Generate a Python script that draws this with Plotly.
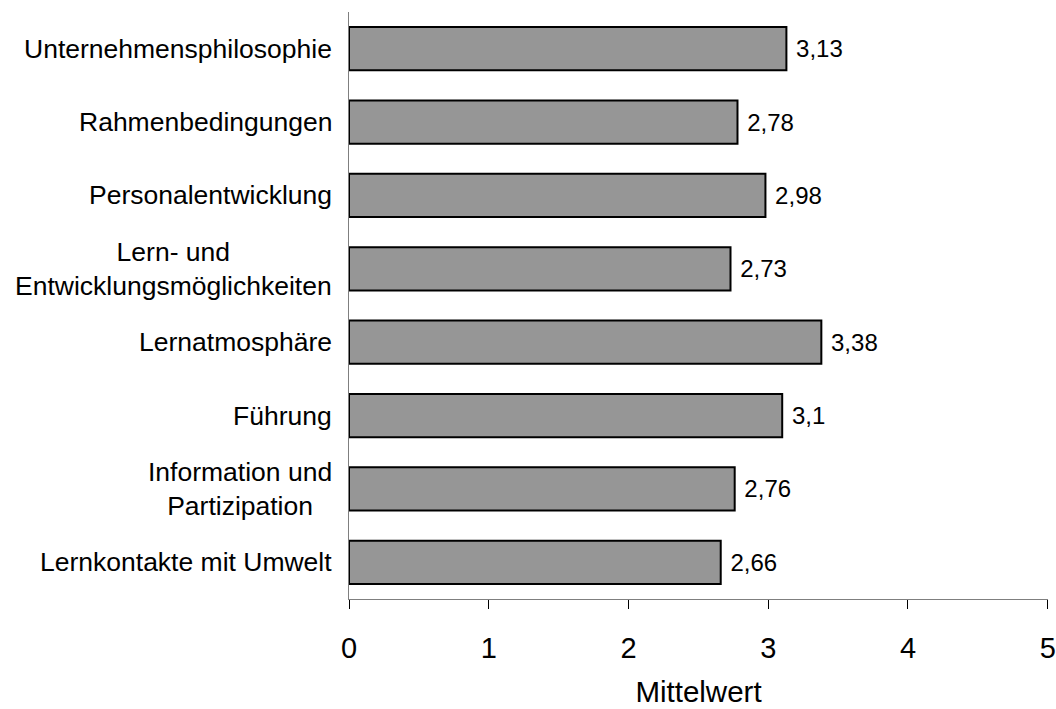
import plotly.graph_objects as go

categories = [
    "Unternehmensphilosophie",
    "Rahmenbedingungen",
    "Personalentwicklung",
    "Lern- und<br>Entwicklungsmöglichkeiten",
    "Lernatmosphäre",
    "Führung",
    "Information und<br>Partizipation",
    "Lernkontakte mit Umwelt",
]
values = [3.13, 2.78, 2.98, 2.73, 3.38, 3.1, 2.76, 2.66]
value_labels = ["\u00a0" + str(v).replace(".", ",") for v in values]
x_ticks = [0, 1, 2, 3, 4, 5]
x_title = "Mittelwert"

FONT = "Liberation Sans, Arial, sans-serif"

fig = go.Figure()
fig.add_trace(go.Bar(
    y=categories,
    x=values,
    orientation="h",
    marker=dict(color="#969696", line=dict(color="#000000", width=2)),
    text=value_labels,
    textposition="outside",
    textfont=dict(family=FONT, size=24, color="#000000"),
    cliponaxis=False,
    width=0.59,
))

annotations = [
    dict(
        x=0, xref="x", xshift=-15, y=c, yref="y",
        text=c, showarrow=False, xanchor="right", yanchor="middle",
        align="center", font=dict(family=FONT, size=26.5, color="#000000"),
    )
    for c in categories
]

fig.update_layout(
    width=1056, height=709,
    margin=dict(l=349, r=8, t=12, b=110),
    paper_bgcolor="white", plot_bgcolor="white",
    showlegend=False,
    annotations=annotations,
    font=dict(family=FONT, color="#000000"),
    xaxis=dict(
        range=[0, 5.002], tickvals=x_ticks, ticktext=[str(t) for t in x_ticks],
        showgrid=False, zeroline=False, showline=True, linecolor="#7f7f7f", linewidth=1,
        ticks="outside", ticklen=9, tickcolor="#000000", tickwidth=1,
        ticklabelstandoff=14,
        tickfont=dict(family=FONT, size=29, color="#000000"),
        title=dict(text=x_title, font=dict(family=FONT, size=29.5, color="#000000"), standoff=18),
        automargin=False,
    ),
    yaxis=dict(
        range=[7.5, -0.5], type="category",
        showgrid=False, zeroline=False, showline=True, linecolor="#7f7f7f", linewidth=1,
        showticklabels=False, ticks="",
        automargin=False,
    ),
)

fig.write_html(
    "out.html",
    config={"displayModeBar": False},
    post_script="document.body.style.margin='0';document.body.style.overflow='hidden';",
)
